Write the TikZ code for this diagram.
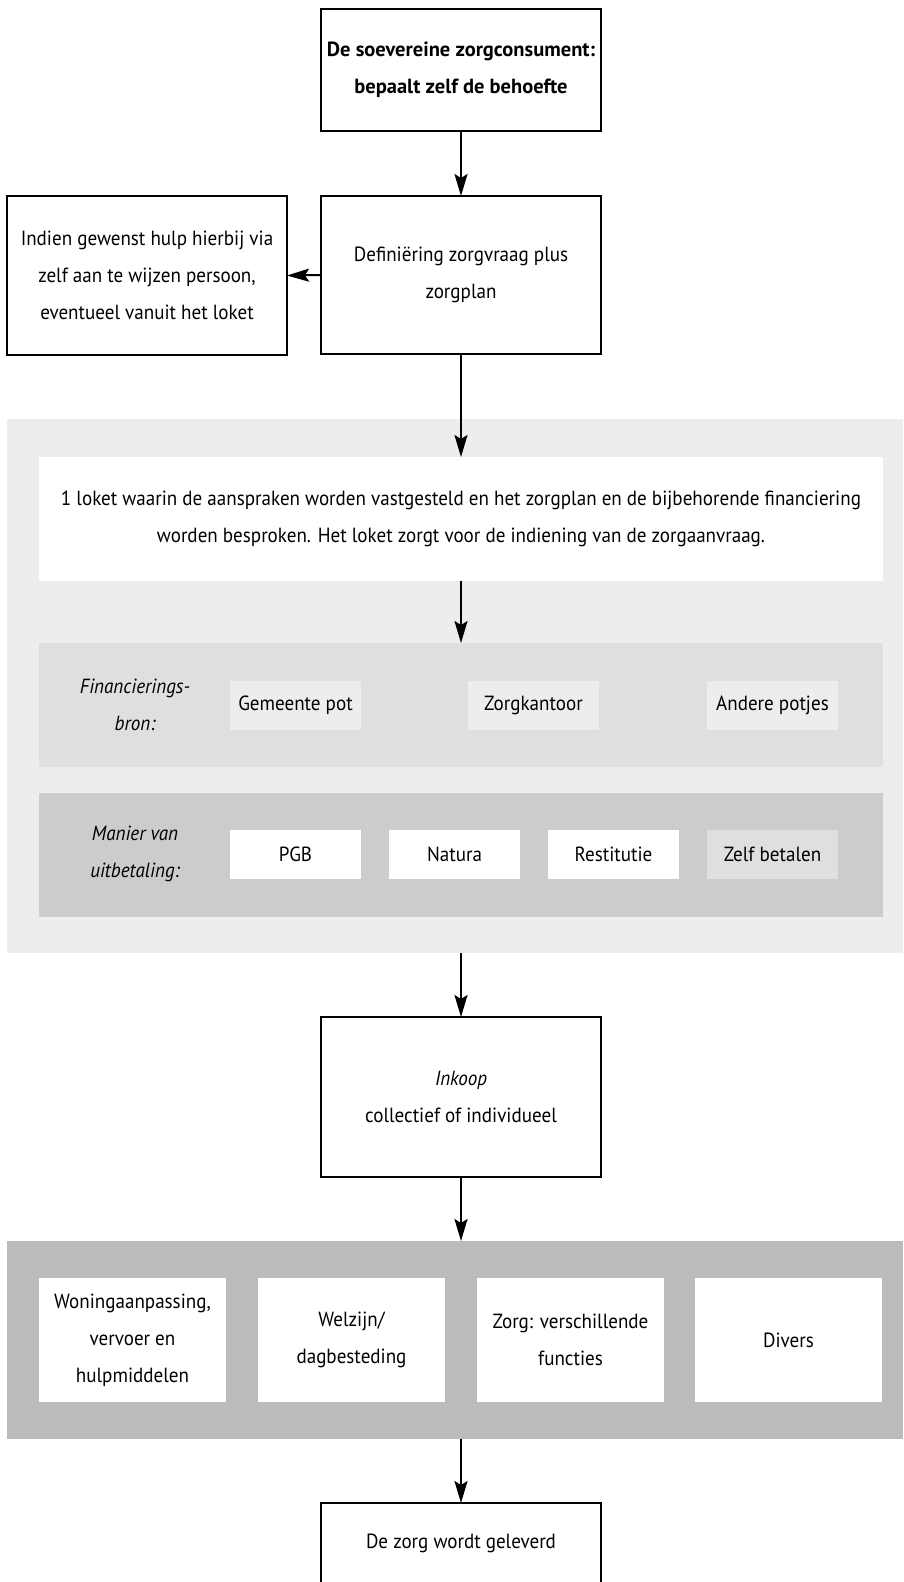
\documentclass[tikz,border=0pt]{standalone}
\usepackage{fontspec}
\setmainfont{PT Sans}[FakeStretch=0.93, BoldFeatures={FakeStretch=1.0}]
\usetikzlibrary{arrows.meta}
\definecolor{gA}{HTML}{EDEDED}
\definecolor{gB}{HTML}{DFDFDF}
\definecolor{gC}{HTML}{CCCCCC}
\definecolor{gD}{HTML}{BBBBBB}
\begin{document}
\begin{tikzpicture}[x=1pt,y=-1pt,
  every node/.style={font=\fontsize{20.5}{37}\selectfont, align=center, inner sep=0pt, outer sep=0pt},
  box/.style={draw=black, line width=1.2pt, fill=white},
  panel/.style={fill=#1, draw=none},
  arr/.style={line width=2pt, -{Stealth[length=22pt,width=13pt,inset=4pt]}},
]
\useasboundingbox (0,0) rectangle (903,1582);
\clip (0,0) rectangle (903,1582);

% top boxes
\node[box, minimum width=280, minimum height=122, font=\fontsize{20.5}{37}\selectfont\bfseries] (top) at (461,70) {De soevereine zorgconsument:\\bepaalt zelf de behoefte};
\node[box, minimum width=280, minimum height=158] (def) at (461,275) {Definiëring zorgvraag plus\\zorgplan};
\node[box, minimum width=280, minimum height=159] (left) at (147,275.5) {Indien gewenst hulp hierbij via\\zelf aan te wijzen persoon,\\eventueel vanuit het loket};

% outer panel
\node[panel=gA, minimum width=896, minimum height=534] (outer) at (455,686) {};
\node[panel=white, minimum width=844, minimum height=124] (loket) at (461,519) {1 loket waarin de aanspraken worden vastgesteld en het zorgplan en de bijbehorende financiering\\worden besproken. Het loket zorgt voor de indiening van de zorgaanvraag.};

\node[panel=gB, minimum width=844, minimum height=124] (fin) at (461,705) {};
\node[font=\fontsize{20.5}{37}\selectfont\itshape] (finlab) at (135,704.5) {Financierings-\\bron:};
\node[panel=gA, minimum width=131, minimum height=49] (gem) at (295.5,705.5) {Gemeente pot};
\node[panel=gA, minimum width=131, minimum height=49] (zk) at (533.5,705.5) {Zorgkantoor};
\node[panel=gA, minimum width=131, minimum height=49] (ap) at (772.5,705.5) {Andere potjes};

\node[panel=gC, minimum width=844, minimum height=124] (man) at (461,855) {};
\node[font=\fontsize{20.5}{37}\selectfont\itshape] (manlab) at (135,853.5) {Manier van\\uitbetaling:};
\node[panel=white, minimum width=131, minimum height=49] (pgb) at (295.5,854.5) {PGB};
\node[panel=white, minimum width=131, minimum height=49] (nat) at (454.5,854.5) {Natura};
\node[panel=white, minimum width=131, minimum height=49] (res) at (613.5,854.5) {Restitutie};
\node[panel=gB, minimum width=131, minimum height=49] (zb) at (772.5,854.5) {Zelf betalen};

% Inkoop
\node[box, minimum width=280, minimum height=160] (ink) at (461,1097) {\textit{Inkoop}\\collectief of individueel};

% bottom panel
\node[panel=gD, minimum width=896, minimum height=198] (bot) at (455,1340) {};
\node[panel=white, minimum width=187, minimum height=124] (b1) at (132.5,1340) {Woningaanpassing,\\vervoer en\\hulpmiddelen};
\node[panel=white, minimum width=187, minimum height=124] (b2) at (351.5,1340) {Welzijn/\\dagbesteding};
\node[panel=white, minimum width=187, minimum height=124] (b3) at (570.5,1340) {Zorg: verschillende\\functies};
\node[panel=white, minimum width=187, minimum height=124] (b4) at (788.5,1340) {Divers};

\node[box, minimum width=280, minimum height=80] (fin2) at (461,1543) {De zorg wordt geleverd};

% arrows
\draw[arr] (top.south) -- (def.north);
\draw[arr] (def.west) -- (left.east);
\draw[arr] (def.south) -- (loket.north);
\draw[arr] (loket.south) -- (loket.south |- fin.north);
\draw[arr] (outer.south -| ink.north) -- (ink.north);
\draw[arr] (ink.south) -- (ink.south |- bot.north);
\draw[arr] (bot.south -| fin2.north) -- (fin2.north);
\end{tikzpicture}
\end{document}
